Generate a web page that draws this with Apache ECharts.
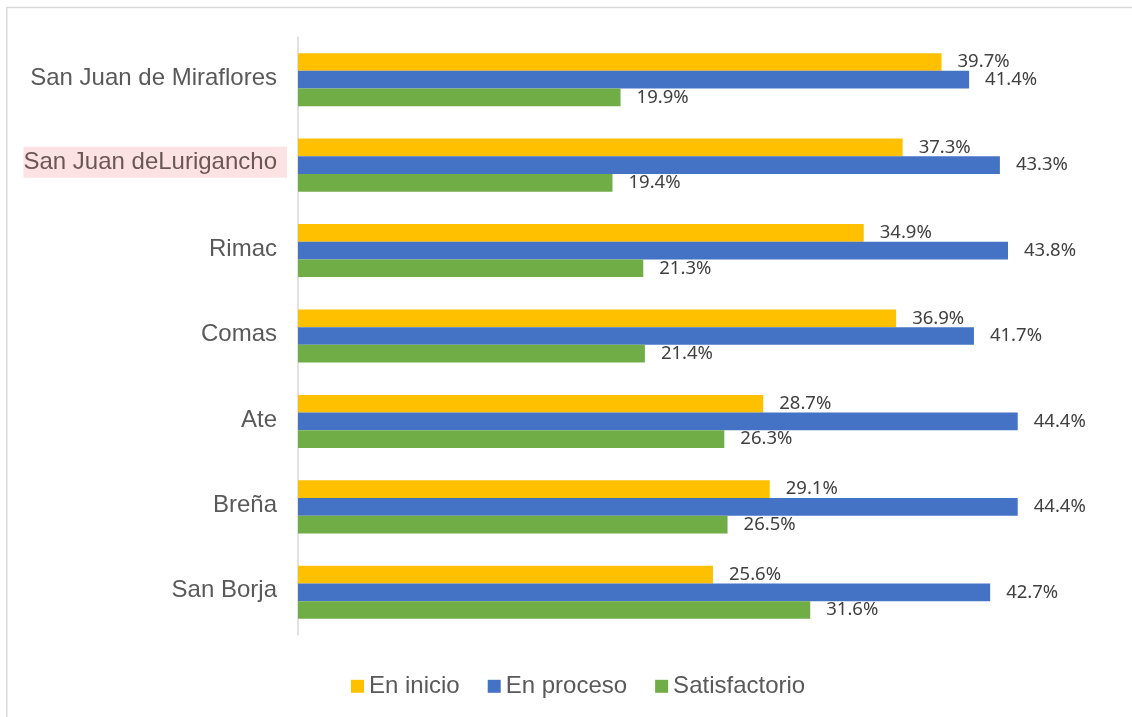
<!DOCTYPE html>
<html>
<head>
<meta charset="utf-8">
<script src="https://cdn.jsdelivr.net/npm/echarts@6/dist/echarts.min.js"></script>
<style>
html,body{margin:0;padding:0;background:#fff;}
#chart{width:1132px;height:717px;}
</style>
</head>
<body>
<div id="chart"></div>
<script>
const categories = ['San Juan de Miraflores', 'San Juan deLurigancho', 'Rimac', 'Comas', 'Ate', 'Breña', 'San Borja'];
const highlighted = 'San Juan deLurigancho';
const seriesNames = ['En inicio', 'En proceso', 'Satisfactorio'];
const enInicio = [39.7, 37.3, 34.9, 36.9, 28.7, 29.1, 25.6];
const enProceso = [41.4, 43.3, 43.8, 41.7, 44.4, 44.4, 42.7];
const satisfactorio = [19.9, 19.4, 21.3, 21.4, 26.3, 26.5, 31.6];
const colors = ['#FFC000', '#4472C4', '#70AD47'];

const chart = echarts.init(document.getElementById('chart'), null, {renderer: 'canvas'});

const labelStyle = {
  show: true,
  position: 'right',
  distance: 16,
  color: '#404040',
  fontFamily: 'Noto Sans',
  fontSize: 18.5,
  formatter: p => p.value.toFixed(1) + '%'
};

function makeSeries(name, data, color) {
  return {
    name: name,
    type: 'bar',
    data: data,
    barWidth: 17.7,
    barGap: '0%',
    itemStyle: {color: color},
    label: labelStyle,
    silent: true
  };
}

chart.setOption({
  animation: false,
  backgroundColor: '#fff',
  graphic: [{
    type: 'rect',
    shape: {x: 6.75, y: 7.5, width: 1300, height: 900},
    style: {fill: 'none', stroke: '#d9d9d9', lineWidth: 1.5},
    silent: true,
    z: -1
  }],
  grid: {left: 298, right: 23.5, top: 37, bottom: 82, containLabel: false},
  xAxis: {
    type: 'value', min: 0, max: 50, show: false,
    splitLine: {show: false}
  },
  yAxis: {
    type: 'category',
    data: categories,
    inverse: true,
    axisTick: {show: false},
    axisLine: {show: true, lineStyle: {color: '#d9d9d9', width: 1.5}},
    axisLabel: {
      margin: 11,
      formatter: v => v === highlighted ? '{h|' + v + '}{hs| }{t| }' : '{n|' + v + '}{s| }',
      rich: {
        n: {color: '#595959', fontFamily: 'Liberation Sans', fontSize: 24, padding: [0, 0, 3, 0]},
        s: {width: 10, fontSize: 24},
        h: {color: '#6b5656', fontFamily: 'Liberation Sans', fontSize: 24, backgroundColor: '#FDE2E3', height: 31, verticalAlign: 'top'},
        hs: {width: 10, fontSize: 24, backgroundColor: '#FDE2E3', height: 31, verticalAlign: 'top'},
        t: {width: 0.01, fontSize: 24, height: 37}
      }
    }
  },
  legend: {
    left: 351,
    top: 674.3,
    padding: 0,
    itemWidth: 13,
    itemHeight: 13,
    itemGap: 28,
    icon: 'rect',
    textStyle: {color: '#595959', fontFamily: 'Liberation Sans', fontSize: 24},
    data: seriesNames
  },
  series: [
    makeSeries(seriesNames[0], enInicio, colors[0]),
    makeSeries(seriesNames[1], enProceso, colors[1]),
    makeSeries(seriesNames[2], satisfactorio, colors[2])
  ]
});
</script>
</body>
</html>
